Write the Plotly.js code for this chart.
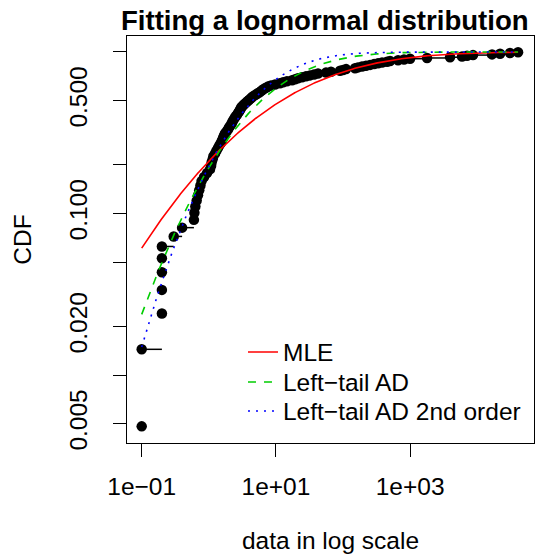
<!DOCTYPE html>
<html>
<head>
<meta charset="utf-8">
<script src="https://cdn.plot.ly/plotly-3.0.1.min.js"></script>
<style>html,body{margin:0;padding:0;background:#fff;}#chart{width:541px;height:558px;}</style>
</head>
<body>
<div id="chart"></div>
<script>
const atv = [0.1,0.1,0.2,0.2,0.2,0.2,0.2,0.3,0.4,0.6,0.61,0.63,0.66,0.69,0.72,0.75,0.78,0.85,0.94,1.04,
  1.08,1.1,1.14,1.17,1.24,1.3,1.37,1.44,1.52,1.57,1.63,1.68,1.74,1.84,1.93,2.0,2.1,2.19,2.25,2.33,
  2.42,2.5,2.63,2.72,2.82,2.92,2.99,3.07,3.23,3.4,3.58,3.77,3.97,4.18,4.4,4.64,4.97,5.32,5.7,6.0,
  6.3,6.65,7.12,7.63,8.45,9.7,11.5,12.8,14.6,17.4,19.3,21.3,24.5,28.1,32.2,37,42.4,55.8,66.2,90.2,
  100,111,151,167,192,220,253,290,333,382,453,502,661,811,997,1787,3935,5940,7050,8650,
  16630,21900,30800,40600];

// Fitted lognormal parameters
const fitNames = ["MLE", "Left\u2212tail AD", "Left\u2212tail AD 2nd order"];
const meanlog = [2.49, 1.80, 1.50];
const sdlog = [3.10, 2.07, 1.75];
const fitColors = ["#FF0000", "#00CD00", "#0000FF"];
const fitDash = ["solid", "8px,8px", "2px,6px"];

// Axis ticks
const yTickVals = [0.005, 0.01, 0.02, 0.05, 0.1, 0.2, 0.5, 1];
const yTickText = ["0.005", "", "0.020", "", "0.100", "", "0.500", ""];
const xTickVals = [0.1, 10, 1000];
const xTickText = ["1e\u221201", "1e+01", "1e+03"];

function erf(x) {
  const s = x < 0 ? -1 : 1; x = Math.abs(x);
  const t = 1 / (1 + 0.3275911 * x);
  const y = 1 - (((((1.061405429 * t - 1.453152027) * t) + 1.421413741) * t - 0.284496736) * t + 0.254829592) * t * Math.exp(-x * x);
  return s * y;
}
function plnorm(x, m, s) { return 0.5 * (1 + erf((Math.log(x) - m) / (s * Math.SQRT2))); }

const n = atv.length;
const obsp = atv.map((v, i) => (i + 0.5) / n);

// horizontal steps
const hx = [], hy = [];
for (let i = 0; i < n - 1; i++) { hx.push(atv[i], atv[i + 1], null); hy.push(obsp[i], obsp[i], null); }

const FONT = "Liberation Sans, Arial, Helvetica, sans-serif";
const FS = 24.5;
const traces = [];
traces.push({x: hx, y: hy, mode: "lines", line: {color: "#000", width: 1.5}, showlegend: false, hoverinfo: "skip"});
traces.push({x: atv, y: obsp, mode: "markers", marker: {color: "#000", size: 10.5}, showlegend: false});

const lmin = Math.log10(atv[0]), lmax = Math.log10(atv[n - 1]);
const grid = [];
for (let k = 0; k <= 300; k++) grid.push(Math.pow(10, lmin + (lmax - lmin) * k / 300));
const legendIds = ["legend", "legend2", "legend3"];
for (let j = 0; j < fitNames.length; j++) {
  traces.push({
    x: grid, y: grid.map(v => plnorm(v, meanlog[j], sdlog[j])),
    mode: "lines", name: fitNames[j], legend: legendIds[j],
    line: {color: fitColors[j], width: 1.6, dash: fitDash[j]}
  });
}

const plotTop = 36, plotBottom = 443, H = 558;
const plotH = plotBottom - plotTop;
function legendCfg(ypix) {
  return {x: 0.285, xanchor: "left", y: (plotBottom - ypix) / plotH, yanchor: "middle",
    bgcolor: "rgba(0,0,0,0)", borderwidth: 0, font: {family: FONT, size: FS, color: "#000"}};
}

const layout = {
  width: 541, height: 558,
  margin: {l: 127, r: 7, t: 36, b: 115},
  paper_bgcolor: "#fff", plot_bgcolor: "#fff",
  font: {family: FONT, color: "#000", size: FS},
  title: {text: "<b>Fitting a lognormal distribution</b>", font: {family: FONT, size: 27.6, color: "#000"},
    xref: "paper", x: 0.486, xanchor: "center", yref: "container", y: 1 - 20 / H, yanchor: "middle"},
  xaxis: {type: "log", range: [-1.219, 4.846], showgrid: false, zeroline: false,
    showline: true, mirror: true, linecolor: "#000", linewidth: 1,
    ticks: "outside", ticklen: 13, tickwidth: 1, tickcolor: "#000", ticklabelstandoff: 9,
    tickvals: xTickVals, ticktext: xTickText, tickfont: {family: FONT, size: FS, color: "#000"},
    title: {text: "data in log scale", font: {family: FONT, size: FS, color: "#000"}, standoff: 32}},
  yaxis: {type: "log", range: [-2.421, 0.099], showgrid: false, zeroline: false,
    showline: true, mirror: true, linecolor: "#000", linewidth: 1,
    ticks: "outside", ticklen: 13, tickwidth: 1, tickcolor: "#000", ticklabelstandoff: 16,
    tickvals: yTickVals, ticktext: yTickText, tickangle: -90, tickfont: {family: FONT, size: FS, color: "#000"},
    title: {text: "CDF", font: {family: FONT, size: FS, color: "#000"}, standoff: 26}},
  legend: legendCfg(352),
  legend2: legendCfg(382),
  legend3: legendCfg(411),
  showlegend: true
};

Plotly.newPlot("chart", traces, layout, {displayModeBar: false, staticPlot: true});
</script>
</body>
</html>
